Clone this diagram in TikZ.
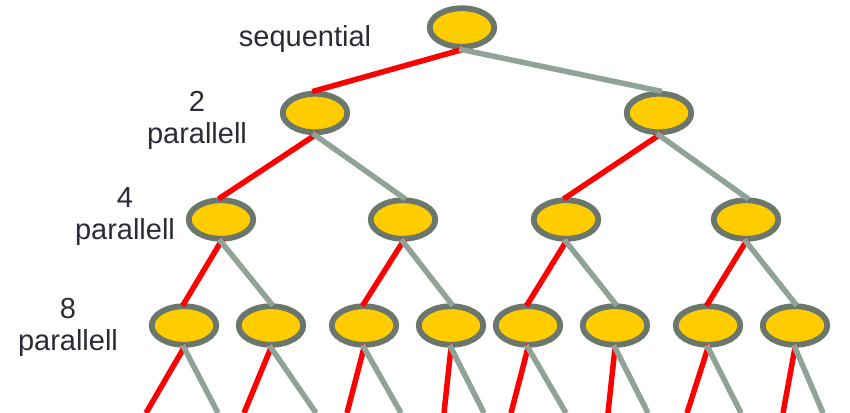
\documentclass[tikz,border=0pt]{standalone}
\usepackage{fontspec}
\setmainfont{Liberation Sans}
\usetikzlibrary{shapes.geometric}

\definecolor{nodefill}{HTML}{FFCC00}
\definecolor{nodeedge}{HTML}{6B776C}
\definecolor{greyedge}{HTML}{8FA397}
\definecolor{rededge}{HTML}{FF0000}
\definecolor{labeltext}{HTML}{2B2B36}

\tikzset{
  task/.style={ellipse, draw=nodeedge, fill=nodefill, line width=5.8pt,
    minimum width=64.5pt, minimum height=38.5pt, inner sep=0pt},
  hot/.style={draw=rededge, line width=5.5pt, shorten <=-2.9pt, shorten >=-2.9pt},
  cold/.style={draw=greyedge, line width=5.5pt, shorten <=-2.9pt, shorten >=-2.9pt},
  hotend/.style={draw=rededge, line width=5.5pt, shorten <=-2.9pt},
  coldend/.style={draw=greyedge, line width=5.5pt, shorten <=-2.9pt},
  lbl/.style={text=labeltext, font=\fontsize{29}{32}\selectfont, align=center, inner sep=0pt}
}

\begin{document}
\begin{tikzpicture}[x=1pt, y=-1pt]
\useasboundingbox (0,0) rectangle (850,412);

% level labels
\node[lbl, anchor=base]  (lseq) at (305,47)  {sequential};
\node[lbl, anchor=north] (l2)   at (197,91)  {2\\parallell};
\node[lbl, anchor=north] (l4)   at (125,187) {4\\parallell};
\node[lbl, anchor=north] (l8)   at (68,298)  {8\\parallell};

% task tree
\node[task] (a)  at (462,27.5) {};
\node[task] (b1) at (315,113) {};
\node[task] (b2) at (659,113) {};
\node[task] (c1) at (221,219.5) {};
\node[task] (c2) at (403,219.5) {};
\node[task] (c3) at (566,219.5) {};
\node[task] (c4) at (746,219.5) {};
\node[task] (d1) at (184,325.5) {};
\node[task] (d2) at (271,325.5) {};
\node[task] (d3) at (364,325.5) {};
\node[task] (d4) at (451,325.5) {};
\node[task] (d5) at (528,325.5) {};
\node[task] (d6) at (615,325.5) {};
\node[task] (d7) at (708,325.5) {};
\node[task] (d8) at (795,325.5) {};

% open ends below the last level
\coordinate (e1r) at (146,413); \coordinate (e1g) at (218,413);
\coordinate (e2r) at (244,413); \coordinate (e2g) at (316,413);
\coordinate (e3r) at (347,413); \coordinate (e3g) at (401,413);
\coordinate (e4r) at (444,413); \coordinate (e4g) at (484,413);
\coordinate (e5r) at (511,413); \coordinate (e5g) at (566,413);
\coordinate (e6r) at (608,413); \coordinate (e6g) at (648,413);
\coordinate (e7r) at (687,413); \coordinate (e7g) at (741,413);
\coordinate (e8r) at (783,413); \coordinate (e8g) at (823,413);

% edges: red = the path followed, grey = the other branch
\draw[hot]  (a.south) -- (b1.north);
\draw[cold] (a.south) -- (b2.north);

\draw[hot]  (b1.south) -- (c1.north);
\draw[cold] (b1.south) -- (c2.north);
\draw[hot]  (b2.south) -- (c3.north);
\draw[cold] (b2.south) -- (c4.north);

\draw[hot]  (c1.south) -- (d1.north);
\draw[cold] (c1.south) -- (d2.north);
\draw[hot]  (c2.south) -- (d3.north);
\draw[cold] (c2.south) -- (d4.north);
\draw[hot]  (c3.south) -- (d5.north);
\draw[cold] (c3.south) -- (d6.north);
\draw[hot]  (c4.south) -- (d7.north);
\draw[cold] (c4.south) -- (d8.north);

\foreach \i in {1,...,8} {
  \draw[hotend]  (d\i.south) -- (e\i r);
  \draw[coldend] (d\i.south) -- (e\i g);
}
\end{tikzpicture}
\end{document}
